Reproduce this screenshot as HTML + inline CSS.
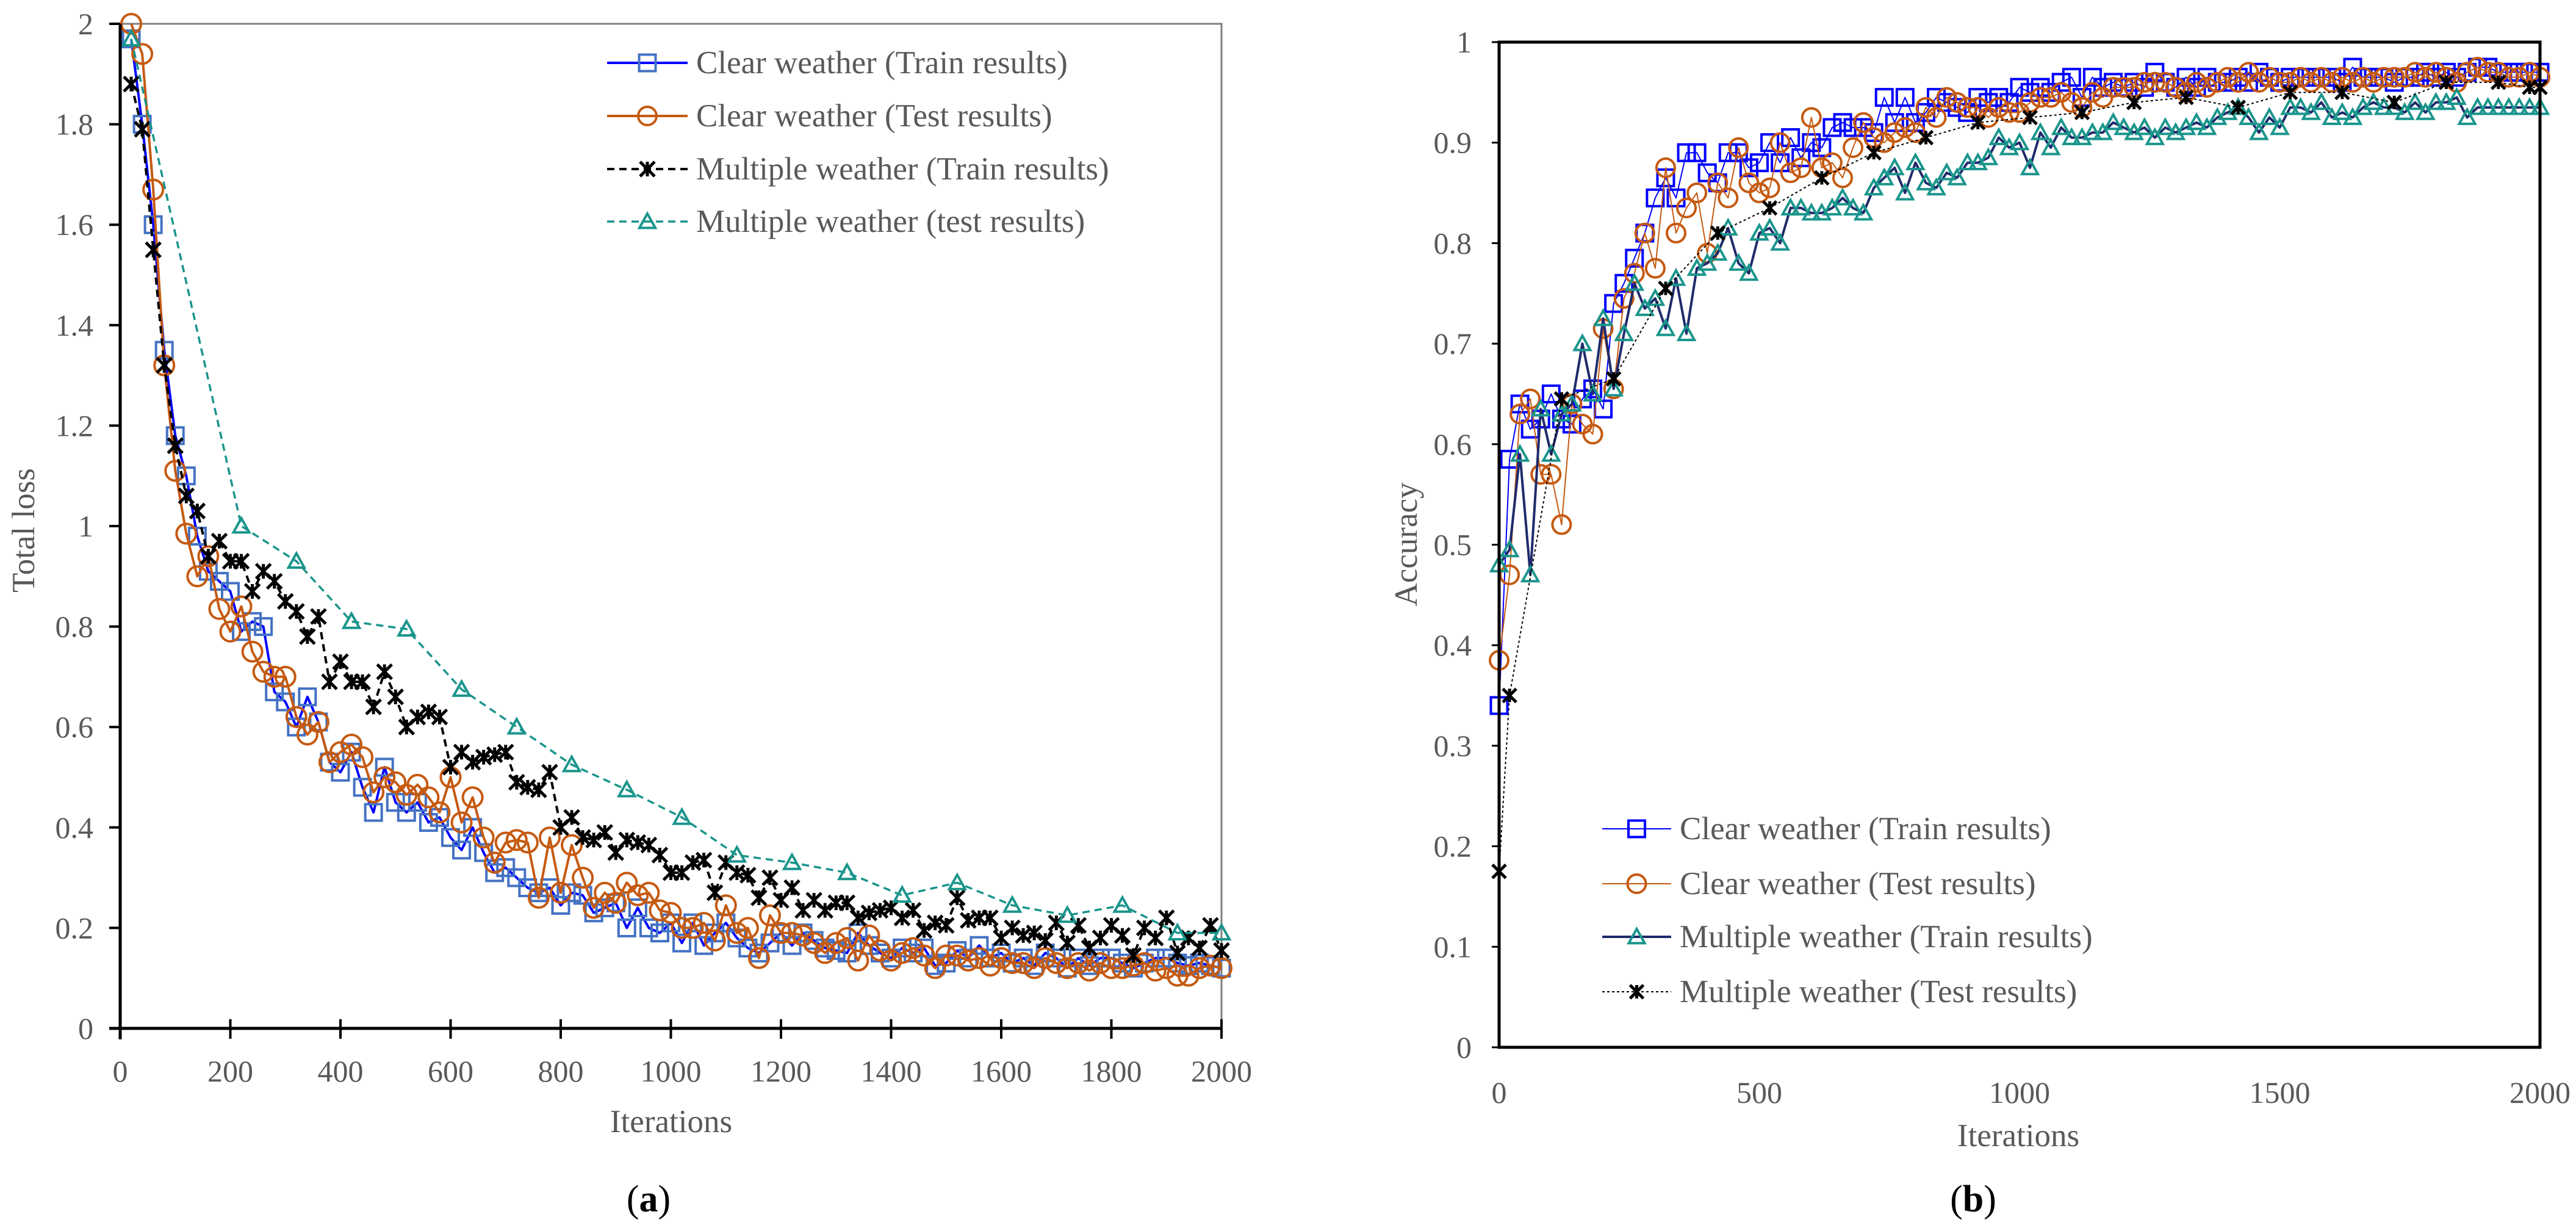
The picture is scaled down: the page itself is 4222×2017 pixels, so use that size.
<!DOCTYPE html>
<html><head><meta charset="utf-8">
<style>
html,body{margin:0;padding:0;background:#fff;}
svg{display:block;}
text{font-family:"Liberation Serif",serif;}
</style></head>
<body>
<svg id="chart" width="4222" height="2017" viewBox="0 0 4222 2017" xmlns="http://www.w3.org/2000/svg">
<rect width="4222" height="2017" fill="#fff"/>
<g id="left"></g>
<g id="right"></g>
</svg>
<script>
// ---------- data: loss chart ----------
const lossIters = Array.from({length:100},(_, k)=>20+k*20);
const lossClearTrain = [1.97,1.80,1.60,1.35,1.18,1.10,0.98,0.91,0.89,0.87,0.79,0.81,0.80,0.67,0.65,0.60,0.66,0.61,0.53,0.51,0.55,0.48,0.43,0.52,0.45,0.43,0.45,0.41,0.42,0.38,0.355,0.40,0.35,0.31,0.32,0.30,0.28,0.27,0.28,0.245,0.27,0.265,0.23,0.24,0.25,0.20,0.24,0.20,0.19,0.21,0.17,0.21,0.165,0.19,0.21,0.18,0.16,0.15,0.17,0.19,0.165,0.19,0.175,0.16,0.155,0.15,0.19,0.165,0.15,0.14,0.16,0.15,0.16,0.125,0.13,0.155,0.14,0.165,0.14,0.15,0.13,0.14,0.125,0.15,0.14,0.12,0.14,0.125,0.14,0.14,0.13,0.12,0.13,0.14,0.14,0.13,0.125,0.13,0.125,0.12];
const lossClearTest = [2.0,1.94,1.67,1.32,1.11,0.985,0.90,0.94,0.835,0.79,0.84,0.75,0.71,0.70,0.70,0.62,0.585,0.61,0.53,0.55,0.565,0.54,0.47,0.50,0.49,0.465,0.485,0.46,0.43,0.50,0.41,0.46,0.38,0.33,0.37,0.375,0.37,0.26,0.38,0.27,0.365,0.30,0.24,0.27,0.25,0.29,0.265,0.27,0.235,0.23,0.20,0.20,0.21,0.175,0.245,0.19,0.20,0.14,0.225,0.19,0.19,0.185,0.17,0.15,0.17,0.18,0.135,0.185,0.155,0.135,0.15,0.16,0.145,0.12,0.145,0.145,0.135,0.14,0.125,0.14,0.13,0.13,0.12,0.14,0.13,0.12,0.13,0.115,0.13,0.12,0.12,0.125,0.13,0.115,0.12,0.105,0.105,0.12,0.125,0.12];
const lossMultiTrain = [1.88,1.79,1.55,1.32,1.16,1.06,1.03,0.94,0.97,0.93,0.93,0.87,0.91,0.89,0.85,0.83,0.78,0.82,0.69,0.73,0.69,0.69,0.64,0.71,0.66,0.60,0.62,0.63,0.62,0.52,0.55,0.53,0.54,0.545,0.55,0.49,0.48,0.475,0.51,0.40,0.42,0.38,0.375,0.39,0.35,0.375,0.37,0.365,0.345,0.31,0.31,0.33,0.335,0.27,0.33,0.31,0.305,0.26,0.30,0.255,0.28,0.235,0.255,0.235,0.25,0.25,0.22,0.23,0.235,0.24,0.22,0.235,0.195,0.21,0.205,0.26,0.215,0.22,0.22,0.18,0.20,0.185,0.19,0.175,0.21,0.17,0.205,0.16,0.18,0.205,0.185,0.145,0.20,0.18,0.22,0.15,0.18,0.16,0.205,0.155];
const lossMultiTestIters = [20,220,320,420,520,620,720,820,920,1020,1120,1220,1320,1420,1520,1620,1720,1820,1920,2000];
const lossMultiTest = [1.97,1.00,0.93,0.81,0.795,0.675,0.60,0.525,0.475,0.42,0.345,0.33,0.31,0.265,0.29,0.245,0.225,0.245,0.19,0.19];
const lossYTicks = ["0","0.2","0.4","0.6","0.8","1","1.2","1.4","1.6","1.8","2"];
const lossXTicks = ["0","200","400","600","800","1000","1200","1400","1600","1800","2000"];

// ---------- data: accuracy chart ----------
const accIters = Array.from({length:101},(_, k)=>k*20);
const accClearTrain = [0.34,0.585,0.64,0.615,0.625,0.65,0.625,0.62,0.645,0.655,0.635,0.74,0.76,0.785,0.81,0.845,0.865,0.845,0.89,0.89,0.87,0.86,0.89,0.89,0.875,0.88,0.90,0.88,0.905,0.885,0.90,0.895,0.915,0.92,0.915,0.915,0.91,0.945,0.92,0.945,0.92,0.93,0.945,0.94,0.935,0.93,0.945,0.94,0.945,0.94,0.955,0.95,0.955,0.95,0.96,0.965,0.945,0.965,0.955,0.96,0.955,0.96,0.955,0.97,0.96,0.955,0.965,0.955,0.965,0.96,0.96,0.965,0.96,0.97,0.965,0.96,0.965,0.965,0.965,0.965,0.965,0.96,0.975,0.965,0.965,0.965,0.96,0.965,0.965,0.97,0.965,0.97,0.965,0.97,0.975,0.975,0.97,0.97,0.97,0.97,0.97];
const accClearTest = [0.385,0.47,0.63,0.645,0.57,0.57,0.52,0.64,0.62,0.61,0.715,0.655,0.745,0.77,0.81,0.775,0.875,0.81,0.835,0.85,0.79,0.86,0.845,0.895,0.86,0.85,0.855,0.90,0.87,0.875,0.925,0.875,0.88,0.865,0.895,0.92,0.905,0.90,0.91,0.915,0.91,0.935,0.925,0.945,0.94,0.935,0.935,0.925,0.935,0.93,0.93,0.94,0.945,0.945,0.95,0.94,0.935,0.95,0.945,0.955,0.955,0.955,0.96,0.96,0.96,0.955,0.95,0.96,0.955,0.96,0.965,0.96,0.97,0.96,0.965,0.96,0.96,0.965,0.96,0.965,0.96,0.965,0.96,0.965,0.96,0.965,0.965,0.965,0.97,0.965,0.97,0.965,0.96,0.97,0.975,0.97,0.97,0.965,0.965,0.97,0.965];
const accMultiTrain = [0.48,0.495,0.59,0.47,0.635,0.59,0.63,0.64,0.70,0.65,0.725,0.655,0.71,0.76,0.735,0.745,0.715,0.765,0.71,0.775,0.78,0.79,0.815,0.78,0.77,0.81,0.815,0.80,0.835,0.835,0.83,0.83,0.835,0.845,0.835,0.83,0.855,0.865,0.875,0.85,0.88,0.86,0.855,0.87,0.865,0.88,0.88,0.885,0.905,0.895,0.90,0.875,0.91,0.895,0.915,0.905,0.905,0.91,0.91,0.92,0.915,0.91,0.915,0.905,0.915,0.91,0.915,0.92,0.915,0.925,0.93,0.935,0.925,0.91,0.925,0.915,0.935,0.935,0.93,0.94,0.925,0.93,0.925,0.935,0.94,0.935,0.935,0.93,0.94,0.93,0.94,0.94,0.945,0.925,0.935,0.935,0.935,0.935,0.935,0.935,0.935];
const accMultiTestIters = [0,20,120,220,320,420,520,620,720,820,920,1020,1120,1220,1320,1420,1520,1620,1720,1820,1920,1980,2000];
const accMultiTest = [0.175,0.35,0.645,0.665,0.755,0.81,0.835,0.865,0.89,0.905,0.92,0.925,0.93,0.94,0.945,0.935,0.95,0.95,0.94,0.96,0.96,0.955,0.955];
const accYTicks = ["0","0.1","0.2","0.3","0.4","0.5","0.6","0.7","0.8","0.9","1"];
const accXTicks = ["0","500","1000","1500","2000"];

const NS="http://www.w3.org/2000/svg";
function mk(parent,tag,attrs,txt){const e=document.createElementNS(NS,tag);for(const k in attrs)e.setAttribute(k,attrs[k]);if(txt!==undefined)e.textContent=txt;parent.appendChild(e);return e;}

function marker(g,type,x,y,color,s){
  let e;
  if(type==='square'){e=mk(g,'rect',{x:x-s/2,y:y-s/2,width:s,height:s,fill:'none',stroke:color,'stroke-width':4});}
  else if(type==='circle'){e=mk(g,'circle',{cx:x,cy:y,r:s/2,fill:'none',stroke:color,'stroke-width':4});}
  else if(type==='tri'){e=mk(g,'path',{d:`M${x},${y-s/2}L${x+s/2},${y+s/2*0.8}L${x-s/2},${y+s/2*0.8}Z`,fill:'none',stroke:color,'stroke-width':4});}
  else {const r=s/2;e=mk(g,'path',{d:`M${x-r},${y-r}L${x+r},${y+r}M${x-r},${y+r}L${x+r},${y-r}M${x},${y-r}L${x},${y+r}`,fill:'none',stroke:color,'stroke-width':5});}
  
  
}

function series(g,name,xs,ys,sx,sy,lineColor,lw,dash,mType,mColor,mSize){
  const sg=mk(g,'g',{});
  
  
  const d=xs.map((x,i)=>(i?'L':'M')+sx(x).toFixed(1)+','+sy(ys[i]).toFixed(1)).join('');
  const p=mk(sg,'path',{d:d,fill:'none',stroke:lineColor,'stroke-width':lw,'stroke-dasharray':dash||'none','stroke-linejoin':'round'});
  
  
  xs.forEach((x,i)=>marker(sg,mType,sx(x),sy(ys[i]),mColor,mSize));
}

function legendEntry(g,x1,x2,y,tx,label,lineColor,lw,dash,mType,mColor,mSize){
  const lg=mk(g,'g',{});
  
  
  mk(lg,'line',{x1:x1,y1:y,x2:x2,y2:y,stroke:lineColor,'stroke-width':lw,'stroke-dasharray':dash||'none'});
  marker(lg,mType,(x1+x2)/2,y,mColor,mSize);
  const t=mk(lg,'text',{x:tx,y:y+17,'font-size':53,fill:'#595959'},label);
  
  
}

const GRAY='#595959', BLUE='#0000ff', SQB='#4472c4', ORANGE='#c55a11', TEAL='#1a958c', NAVY='#1f2a6b';

// ---------- Left chart ----------
(function(){
  const g=document.getElementById('left');
  const L=197,R=2002,T=39,B=1685;
  const sx=v=>L+(v/2000)*(R-L), sy=v=>B-(v/2)*(B-T);
  mk(g,'path',{d:`M${L},${T}L${R},${T}L${R},${B}`,fill:'none',stroke:'#808080','stroke-width':3});
  series(g,'clear-train-loss',lossIters,lossClearTrain,sx,sy,BLUE,4,null,'square',SQB,27);
  series(g,'clear-test-loss',lossIters,lossClearTest,sx,sy,ORANGE,4,null,'circle',ORANGE,32);
  series(g,'multi-train-loss',lossIters,lossMultiTrain,sx,sy,'#000',4,'12 8','star','#000',24);
  series(g,'multi-test-loss',lossMultiTestIters,lossMultiTest,sx,sy,TEAL,3.5,'12 8','tri',TEAL,26);
  mk(g,'line',{x1:L,y1:T,x2:L,y2:B+18,stroke:'#000','stroke-width':5});
  mk(g,'line',{x1:L-18,y1:B,x2:R,y2:B,stroke:'#000','stroke-width':5});
  lossYTicks.forEach((t,i)=>{const v=i*0.2,y=sy(v);
    mk(g,'line',{x1:L-18,y1:y,x2:L,y2:y,stroke:'#000','stroke-width':4});
    const e=mk(g,'text',{x:L-44,y:y+17,'font-size':50,fill:GRAY,'text-anchor':'end'},t);
    });
  lossXTicks.forEach((t,i)=>{const x=sx(i*200);
    mk(g,'line',{x1:x,y1:B-15,x2:x,y2:B+17,stroke:'#000','stroke-width':4});
    const e=mk(g,'text',{x:x,y:1772,'font-size':50,fill:GRAY,'text-anchor':'middle'},t);
    });
  const yt=mk(g,'text',{x:0,y:0,'font-size':53,fill:GRAY,'text-anchor':'middle',transform:'translate(56,869) rotate(-90)'},'Total loss');
  
  const xt=mk(g,'text',{x:1100,y:1855,'font-size':53,fill:GRAY,'text-anchor':'middle'},'Iterations');
  
  const cap=mk(g,'text',{x:1063,y:1985,'font-size':62,fill:'#000','text-anchor':'middle'});
  
  cap.innerHTML='(<tspan font-weight="bold">a</tspan>)';
  const lg=mk(g,'g',{});
  legendEntry(lg,995,1127,103,1141,'Clear weather (Train results)',BLUE,4,null,'square',SQB,27);
  legendEntry(lg,995,1127,190,1141,'Clear weather (Test results)',ORANGE,4,null,'circle',ORANGE,30);
  legendEntry(lg,995,1127,277,1141,'Multiple weather (Train results)','#000',4,'12 8','star','#000',24);
  legendEntry(lg,995,1127,363,1141,'Multiple weather (test results)',TEAL,3.5,'12 8','tri',TEAL,26);
})();

// ---------- Right chart ----------
(function(){
  const g=document.getElementById('right');
  const L=2457,R=4163,T=69,B=1716;
  const sx=v=>L+(v/2000)*(R-L), sy=v=>B-v*(B-T);
  series(g,'clear-train-acc',accIters,accClearTrain,sx,sy,BLUE,2,null,'square',BLUE,27);
  series(g,'clear-test-acc',accIters,accClearTest,sx,sy,ORANGE,2,null,'circle',ORANGE,30);
  series(g,'multi-train-acc',accIters,accMultiTrain,sx,sy,NAVY,4,null,'tri',TEAL,26);
  series(g,'multi-test-acc',accMultiTestIters,accMultiTest,sx,sy,'#000',2,'4 4','star','#000',22);
  mk(g,'rect',{x:L,y:T,width:R-L,height:B-T,fill:'none',stroke:'#000','stroke-width':5});
  accYTicks.forEach((t,i)=>{const y=sy(i*0.1);
    mk(g,'line',{x1:L-12,y1:y,x2:L,y2:y,stroke:'#000','stroke-width':3});
    const e=mk(g,'text',{x:2412,y:y+17,'font-size':50,fill:GRAY,'text-anchor':'end'},t);
    });
  accXTicks.forEach((t,i)=>{const x=sx(i*500);
    const e=mk(g,'text',{x:x,y:1807,'font-size':50,fill:GRAY,'text-anchor':'middle'},t);
    });
  const yt=mk(g,'text',{x:0,y:0,'font-size':53,fill:GRAY,'text-anchor':'middle',transform:'translate(2322,892) rotate(-90)'},'Accuracy');
  
  const xt=mk(g,'text',{x:3308,y:1878,'font-size':53,fill:GRAY,'text-anchor':'middle'},'Iterations');
  
  const cap=mk(g,'text',{x:3234,y:1985,'font-size':62,fill:'#000','text-anchor':'middle'});
  
  cap.innerHTML='(<tspan font-weight="bold">b</tspan>)';
  const lg=mk(g,'g',{});
  legendEntry(lg,2626,2739,1358,2753,'Clear weather (Train results)',BLUE,2,null,'square',BLUE,27);
  legendEntry(lg,2626,2739,1448,2753,'Clear weather (Test results)',ORANGE,2,null,'circle',ORANGE,30);
  legendEntry(lg,2626,2739,1535,2753,'Multiple weather (Train results)',NAVY,4,null,'tri',TEAL,26);
  legendEntry(lg,2626,2739,1625,2753,'Multiple weather (Test results)','#000',2,'4 4','star','#000',22);
})();
</script>
</body></html>
